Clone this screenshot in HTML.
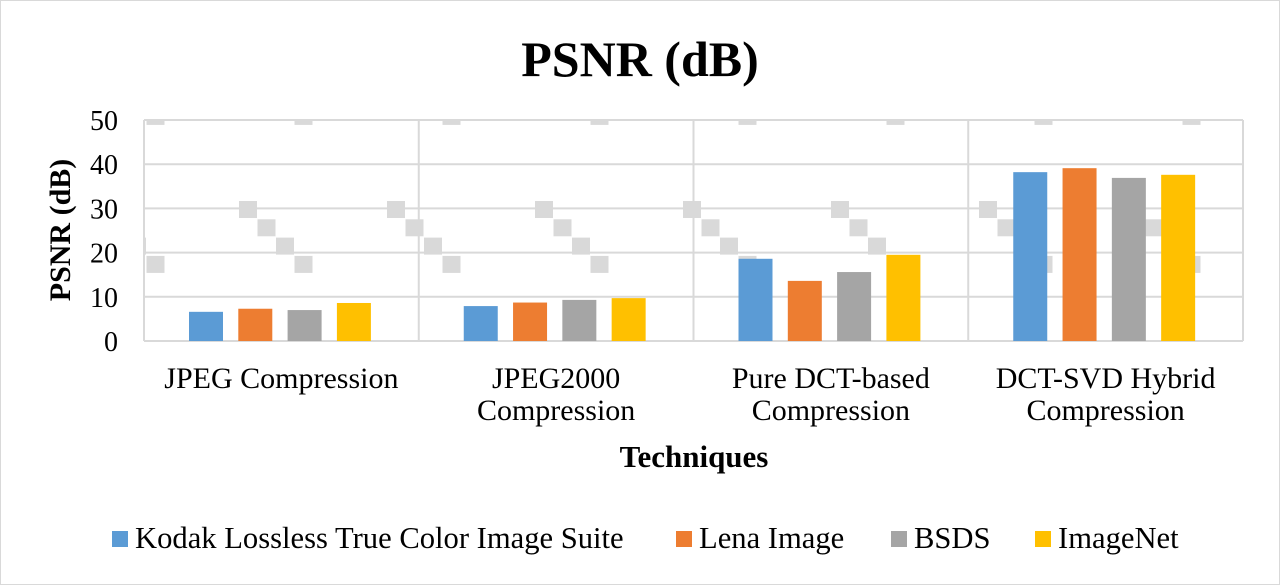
<!DOCTYPE html>
<html><head><meta charset="utf-8"><style>
body{margin:0;background:#fff;}
svg{display:block;font-family:"Liberation Serif",serif;}
</style></head><body>
<svg id="chart" width="1280" height="585" viewBox="0 0 1280 585">
<rect x="0.5" y="0.5" width="1279" height="584" fill="#fff" stroke="#d9d9d9"/>
<text x="640" y="76" text-anchor="middle" font-size="50" font-weight="bold">PSNR (dB)</text>
<g id="wm"></g>
<g id="grid"></g>
<g id="bars"></g>
<g id="yticks"></g>
<g id="xlabels"></g>
<text transform="translate(70,230) rotate(-90)" text-anchor="middle" font-size="30" font-weight="bold">PSNR (dB)</text>
<text x="694" y="467" text-anchor="middle" font-size="31" font-weight="bold">Techniques</text>
<g id="legend"></g>
</svg>
<script>
const categories=[["JPEG Compression"],["JPEG2000","Compression"],["Pure DCT-based","Compression"],["DCT-SVD Hybrid","Compression"]];
const seriesNames=["Kodak Lossless True Color Image Suite","Lena Image","BSDS","ImageNet"];
const kodak=[6.6,7.9,18.6,38.2];
const lena=[7.3,8.7,13.6,39.1];
const bsds=[7.0,9.3,15.6,36.9];
const imagenet=[8.6,9.7,19.5,37.6];
const yTicks=[0,10,20,30,40,50];
const colors=["#5b9bd5","#ed7d31","#a5a5a5","#ffc000"];
const series=[kodak,lena,bsds,imagenet];
const NS="http://www.w3.org/2000/svg";
const X0=144,X1=1243,Y0=341,Y50=120;
const gw=(X1-X0)/categories.length;
const y=v=>Y0-(v/50)*(Y0-Y50);
function mk(t,a,p){const e=document.createElementNS(NS,t);for(const k in a)e.setAttribute(k,a[k]);p.appendChild(e);return e;}
const wm=document.getElementById('wm');
for(let i=-1;i<9;i++)for(let j=-1;j<2;j++)for(let k=0;k<4;k++){
 const sx=91+148*i+18.5*k, sy=201+18.3*k-148*j;
 if(sx+18<X0||sx>X1||sy+18<Y50||sy>Y0)continue;
 const x1=Math.max(sx,X0),y1=Math.max(sy,Y50),x2=Math.min(sx+18,X1),y2=Math.min(sy+17,Y0);
 const r=mk('rect',{x:x1,y:y1,width:x2-x1,height:y2-y1,fill:'#d9d9d9'},wm);
 
 
}
const grid=document.getElementById('grid'),yt=document.getElementById('yticks');
yTicks.forEach(t=>{
 const l=mk('line',{x1:X0,x2:X1,y1:y(t),y2:y(t),stroke:'#d9d9d9','stroke-width':2},grid);
 
 
 const tx=mk('text',{x:118,y:y(t)+10,'text-anchor':'end','font-size':28},yt);
 tx.textContent=t;
 
 
});
for(let i=0;i<=categories.length;i++){
 const l=mk('line',{x1:X0+gw*i,x2:X0+gw*i,y1:Y50,y2:Y0,stroke:'#d9d9d9','stroke-width':2},grid);
 
 
}
const bars=document.getElementById('bars'),xl=document.getElementById('xlabels');
categories.forEach((c,ci)=>{
 series.forEach((s,si)=>{
  const bx=X0+gw*ci+45+49.3*si;
  const r=mk('rect',{x:bx,y:y(s[ci]),width:34,height:Y0-y(s[ci]),fill:colors[si]},bars);
  
  
 });
 c.forEach((line,li)=>{
  const t=mk('text',{x:X0+gw*(ci+0.5),y:388+li*32,'text-anchor':'middle','font-size':30},xl);
  t.textContent=line;
  
  
 });
});
const lg=document.getElementById('legend');
const lx=[112,676,891,1035];
seriesNames.forEach((n,i)=>{
 const g=mk('g',{},lg);
 
 
 mk('rect',{x:lx[i],y:531,width:16,height:16,fill:colors[i]},g);
 const t=mk('text',{x:lx[i]+23,y:548,'font-size':30.6},g);
 t.textContent=n;
});
</script>
</body></html>
